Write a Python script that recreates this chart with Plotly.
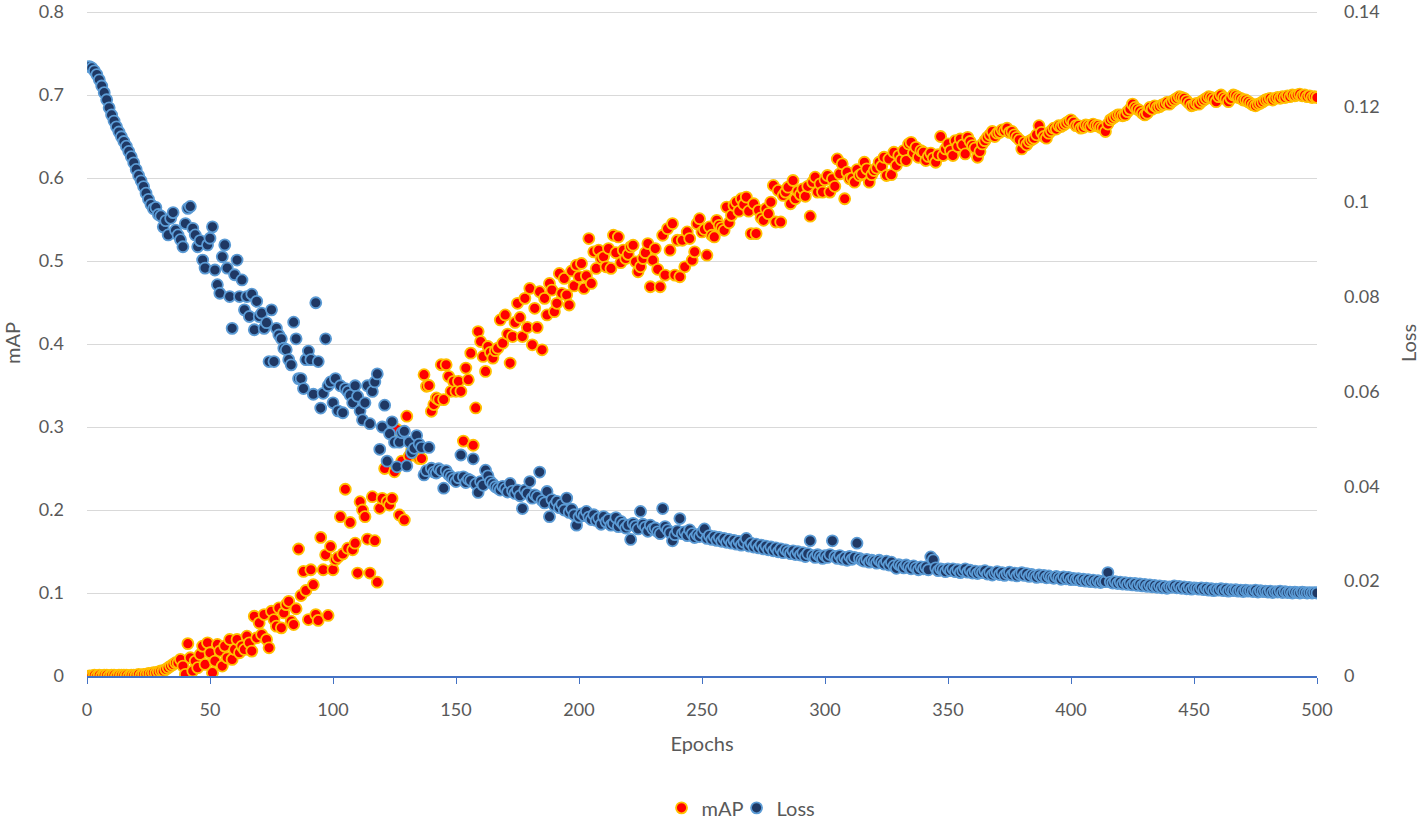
import plotly.graph_objects as go

# ---------------- data ----------------
EPOCHS = list(range(1, 501))

MAP = [
    0.000, 0.000, 0.001, 0.000, 0.001, 0.000, 0.001, 0.001, 0.000, 0.001,
    0.001, 0.000, 0.001, 0.001, 0.001, 0.001, 0.000, 0.001, 0.001, 0.001,
    0.002, 0.001, 0.002, 0.002, 0.003, 0.003, 0.004, 0.004, 0.005, 0.006,
    0.006, 0.008, 0.010, 0.012, 0.014, 0.016, 0.016, 0.020, 0.012, 0.002,
    0.039, 0.022, 0.006, 0.018, 0.010, 0.026, 0.036, 0.014, 0.040, 0.028,
    0.004, 0.018, 0.038, 0.030, 0.012, 0.036, 0.022, 0.044, 0.020, 0.032,
    0.044, 0.028, 0.036, 0.032, 0.048, 0.040, 0.030, 0.072, 0.046, 0.064,
    0.050, 0.074, 0.044, 0.034, 0.078, 0.068, 0.060, 0.082, 0.058, 0.076,
    0.086, 0.090, 0.066, 0.062, 0.081, 0.153, 0.097, 0.126, 0.103, 0.068,
    0.128, 0.110, 0.074, 0.067, 0.167, 0.128, 0.146, 0.073, 0.156, 0.128,
    0.140, 0.143, 0.192, 0.147, 0.225, 0.154, 0.185, 0.152, 0.160, 0.124,
    0.210, 0.200, 0.192, 0.165, 0.124, 0.216, 0.163, 0.113, 0.202, 0.214,
    0.250, 0.210, 0.206, 0.214, 0.246, 0.297, 0.194, 0.259, 0.188, 0.313,
    0.265, 0.272, 0.268, 0.265, 0.262, 0.262, 0.363, 0.349, 0.350, 0.319,
    0.327, 0.335, 0.333, 0.375, 0.333, 0.375, 0.361, 0.343, 0.355, 0.343,
    0.355, 0.343, 0.283, 0.371, 0.357, 0.389, 0.278, 0.323, 0.415, 0.403,
    0.385, 0.367, 0.397, 0.390, 0.383, 0.392, 0.395, 0.429, 0.401, 0.435,
    0.412, 0.377, 0.409, 0.426, 0.449, 0.432, 0.409, 0.455, 0.420, 0.467,
    0.399, 0.443, 0.420, 0.463, 0.393, 0.455, 0.435, 0.473, 0.465, 0.439,
    0.449, 0.485, 0.461, 0.479, 0.459, 0.447, 0.488, 0.470, 0.495, 0.481,
    0.497, 0.467, 0.482, 0.527, 0.473, 0.511, 0.491, 0.513, 0.503, 0.505,
    0.493, 0.515, 0.491, 0.531, 0.510, 0.529, 0.498, 0.513, 0.503, 0.508,
    0.517, 0.519, 0.499, 0.487, 0.493, 0.503, 0.510, 0.521, 0.469, 0.501,
    0.515, 0.490, 0.469, 0.531, 0.483, 0.539, 0.513, 0.545, 0.483, 0.525,
    0.481, 0.525, 0.493, 0.535, 0.527, 0.501, 0.511, 0.545, 0.551, 0.535,
    0.538, 0.507, 0.541, 0.531, 0.529, 0.549, 0.543, 0.540, 0.537, 0.565,
    0.546, 0.555, 0.567, 0.571, 0.560, 0.575, 0.568, 0.577, 0.560, 0.533,
    0.569, 0.533, 0.561, 0.552, 0.549, 0.563, 0.557, 0.571, 0.591, 0.547,
    0.585, 0.547, 0.579, 0.583, 0.589, 0.569, 0.597, 0.575, 0.584, 0.580,
    0.587, 0.578, 0.590, 0.554, 0.595, 0.601, 0.583, 0.593, 0.583, 0.598,
    0.603, 0.583, 0.599, 0.590, 0.623, 0.605, 0.617, 0.575, 0.607, 0.599,
    0.600, 0.595, 0.610, 0.603, 0.605, 0.619, 0.611, 0.595, 0.604, 0.609,
    0.612, 0.619, 0.614, 0.625, 0.603, 0.623, 0.604, 0.631, 0.615, 0.627,
    0.622, 0.633, 0.621, 0.641, 0.643, 0.630, 0.637, 0.625, 0.633, 0.631,
    0.621, 0.626, 0.630, 0.624, 0.619, 0.628, 0.650, 0.627, 0.635, 0.641,
    0.633, 0.627, 0.645, 0.638, 0.647, 0.640, 0.629, 0.649, 0.644, 0.639,
    0.636, 0.625, 0.632, 0.641, 0.645, 0.649, 0.652, 0.656, 0.650, 0.654,
    0.655, 0.658, 0.657, 0.660, 0.655, 0.656, 0.652, 0.649, 0.646, 0.635,
    0.643, 0.640, 0.644, 0.646, 0.648, 0.652, 0.663, 0.655, 0.650, 0.648,
    0.654, 0.657, 0.660, 0.659, 0.663, 0.662, 0.664, 0.666, 0.668, 0.670,
    0.667, 0.663, 0.663, 0.660, 0.661, 0.664, 0.663, 0.662, 0.665, 0.663,
    0.663, 0.661, 0.660, 0.656, 0.665, 0.670, 0.672, 0.674, 0.676, 0.676,
    0.675, 0.676, 0.680, 0.683, 0.689, 0.685, 0.683, 0.681, 0.678, 0.676,
    0.678, 0.685, 0.683, 0.687, 0.685, 0.686, 0.688, 0.689, 0.691, 0.689,
    0.692, 0.694, 0.696, 0.698, 0.697, 0.696, 0.693, 0.690, 0.687, 0.688,
    0.690, 0.689, 0.692, 0.694, 0.696, 0.698, 0.697, 0.695, 0.692, 0.698,
    0.700, 0.697, 0.695, 0.692, 0.696, 0.700, 0.699, 0.697, 0.696, 0.694,
    0.694, 0.692, 0.690, 0.688, 0.687, 0.689, 0.690, 0.692, 0.694, 0.695,
    0.696, 0.694, 0.696, 0.697, 0.696, 0.698, 0.697, 0.699, 0.698, 0.700,
    0.699, 0.700, 0.701, 0.699, 0.700, 0.698, 0.699, 0.697, 0.698, 0.697,
]

LOSS = [
    0.1285, 0.1282, 0.1276, 0.1268, 0.1257, 0.1244, 0.1230, 0.1215, 0.1198, 0.1183,
    0.1170, 0.1158, 0.1147, 0.1137, 0.1127, 0.1117, 0.1106, 0.1095, 0.1082, 0.1068,
    0.1055, 0.1044, 0.1032, 0.1018, 0.1005, 0.0994, 0.0985, 0.0988, 0.0973, 0.0970,
    0.0947, 0.0960, 0.0930, 0.0965, 0.0977, 0.0940, 0.0930, 0.0920, 0.0905, 0.0954,
    0.0986, 0.0990, 0.0944, 0.0930, 0.0905, 0.0918, 0.0877, 0.0860, 0.0909, 0.0923,
    0.0947, 0.0856, 0.0825, 0.0807, 0.0884, 0.0909, 0.0860, 0.0800, 0.0733, 0.0846,
    0.0877, 0.0800, 0.0835, 0.0772, 0.0800, 0.0758, 0.0805, 0.0730, 0.0790, 0.0758,
    0.0765, 0.0733, 0.0745, 0.0663, 0.0772, 0.0663, 0.0733, 0.0719, 0.0711, 0.0691,
    0.0688, 0.0667, 0.0656, 0.0746, 0.0711, 0.0627, 0.0627, 0.0606, 0.0667, 0.0685,
    0.0667, 0.0594, 0.0787, 0.0663, 0.0565, 0.0596, 0.0711, 0.0612, 0.0620, 0.0576,
    0.0627, 0.0559, 0.0612, 0.0555, 0.0606, 0.0600, 0.0592, 0.0576, 0.0612, 0.0590,
    0.0559, 0.0540, 0.0576, 0.0612, 0.0532, 0.0600, 0.0620, 0.0637, 0.0478, 0.0525,
    0.0571, 0.0453, 0.0511, 0.0536, 0.0493, 0.0441, 0.0493, 0.0513, 0.0516, 0.0443,
    0.0493, 0.0471, 0.0480, 0.0507, 0.0489, 0.0482, 0.0424, 0.0433, 0.0482, 0.0438,
    0.0430, 0.0428, 0.0437, 0.0433, 0.0396, 0.0433, 0.0425, 0.0420, 0.0415, 0.0410,
    0.0418, 0.0466, 0.0420, 0.0408, 0.0415, 0.0412, 0.0458, 0.0405, 0.0387, 0.0410,
    0.0402, 0.0434, 0.0422, 0.0410, 0.0405, 0.0399, 0.0396, 0.0392, 0.0400, 0.0395,
    0.0388, 0.0406, 0.0390, 0.0385, 0.0392, 0.0380, 0.0353, 0.0392, 0.0385, 0.0410,
    0.0375, 0.0382, 0.0378, 0.0430, 0.0370, 0.0365, 0.0389, 0.0336, 0.0372, 0.0360,
    0.0368, 0.0355, 0.0362, 0.0350, 0.0375, 0.0345, 0.0352, 0.0340, 0.0318, 0.0335,
    0.0342, 0.0338, 0.0347, 0.0335, 0.0330, 0.0340, 0.0328, 0.0333, 0.0320, 0.0336,
    0.0325, 0.0330, 0.0318, 0.0322, 0.0334, 0.0315, 0.0326, 0.0320, 0.0312, 0.0318,
    0.0288, 0.0322, 0.0316, 0.0310, 0.0347, 0.0320, 0.0314, 0.0305, 0.0318, 0.0310,
    0.0312, 0.0304, 0.0300, 0.0353, 0.0315, 0.0308, 0.0302, 0.0285, 0.0298, 0.0306,
    0.0332, 0.0300, 0.0304, 0.0296, 0.0308, 0.0300, 0.0292, 0.0298, 0.0294, 0.0302,
    0.0310, 0.0290, 0.0296, 0.0288, 0.0294, 0.0286, 0.0292, 0.0284, 0.0290, 0.0282,
    0.0288, 0.0280, 0.0286, 0.0278, 0.0284, 0.0276, 0.0282, 0.0290, 0.0274, 0.0280,
    0.0272, 0.0278, 0.0270, 0.0276, 0.0268, 0.0274, 0.0266, 0.0272, 0.0264, 0.0270,
    0.0262, 0.0268, 0.0260, 0.0266, 0.0262, 0.0258, 0.0264, 0.0256, 0.0262, 0.0255,
    0.0260, 0.0252, 0.0258, 0.0285, 0.0254, 0.0250, 0.0256, 0.0252, 0.0248, 0.0254,
    0.0250, 0.0256, 0.0285, 0.0252, 0.0248, 0.0254, 0.0246, 0.0250, 0.0244, 0.0252,
    0.0246, 0.0250, 0.0280, 0.0248, 0.0244, 0.0242, 0.0246, 0.0240, 0.0244, 0.0242,
    0.0238, 0.0244, 0.0240, 0.0236, 0.0242, 0.0234, 0.0240, 0.0232, 0.0227, 0.0235,
    0.0232, 0.0228, 0.0234, 0.0230, 0.0226, 0.0232, 0.0228, 0.0224, 0.0230, 0.0226,
    0.0230, 0.0224, 0.0251, 0.0245, 0.0228, 0.0222, 0.0226, 0.0224, 0.0220, 0.0226,
    0.0222, 0.0226, 0.0220, 0.0224, 0.0218, 0.0222, 0.0226, 0.0219, 0.0223, 0.0217,
    0.0221, 0.0216, 0.0220, 0.0218, 0.0222, 0.0215, 0.0219, 0.0213, 0.0217, 0.0220,
    0.0214, 0.0218, 0.0212, 0.0216, 0.0219, 0.0213, 0.0217, 0.0211, 0.0215, 0.0218,
    0.0212, 0.0216, 0.0210, 0.0214, 0.0211, 0.0208, 0.0213, 0.0209, 0.0212, 0.0207,
    0.0211, 0.0208, 0.0206, 0.0210, 0.0207, 0.0204, 0.0209, 0.0205, 0.0208, 0.0203,
    0.0206, 0.0203, 0.0205, 0.0201, 0.0204, 0.0200, 0.0203, 0.0199, 0.0202, 0.0198,
    0.0201, 0.0197, 0.0200, 0.0199, 0.0218, 0.0198, 0.0196, 0.0199, 0.0195, 0.0198,
    0.0194, 0.0197, 0.0193, 0.0196, 0.0192, 0.0195, 0.0191, 0.0194, 0.0190, 0.0193,
    0.0189, 0.0192, 0.0188, 0.0191, 0.0187, 0.0190, 0.0186, 0.0189, 0.0185, 0.0188,
    0.0187, 0.0190, 0.0186, 0.0189, 0.0185, 0.0188, 0.0184, 0.0187, 0.0183, 0.0186,
    0.0185, 0.0183, 0.0186, 0.0182, 0.0185, 0.0181, 0.0184, 0.0180, 0.0183, 0.0181,
    0.0184, 0.0180, 0.0183, 0.0179, 0.0182, 0.0180, 0.0182, 0.0179, 0.0181, 0.0178,
    0.0181, 0.0179, 0.0180, 0.0178, 0.0181, 0.0177, 0.0180, 0.0178, 0.0179, 0.0177,
    0.0179, 0.0176, 0.0178, 0.0177, 0.0179, 0.0176, 0.0178, 0.0176, 0.0177, 0.0175,
    0.0177, 0.0176, 0.0175, 0.0177, 0.0176, 0.0175, 0.0176, 0.0175, 0.0176, 0.0175,
]

X_TICKS = [0, 50, 100, 150, 200, 250, 300, 350, 400, 450, 500]
MAP_TICKS = [0, 0.1, 0.2, 0.3, 0.4, 0.5, 0.6, 0.7, 0.8]
LOSS_TICKS = [0, 0.02, 0.04, 0.06, 0.08, 0.1, 0.12, 0.14]

assert len(MAP) == len(EPOCHS) == len(LOSS)

# ---------------- figure ----------------
FONT = "Lato, 'Open Sans', sans-serif"
GREY = "#595959"

# plot area is 2px taller than 0..0.8 so the top gridline is not clipped
MAP_RANGE = [0, 0.80241]
LOSS_RANGE = [0, 0.140422]

fig = go.Figure()
fig.add_trace(go.Scatter(
    x=EPOCHS, y=MAP, name="mAP", mode="markers",
    marker=dict(size=11, color="#FF0000", line=dict(color="#FFC000", width=1.8)),
    yaxis="y", legend="legend",
))
fig.add_trace(go.Scatter(
    x=EPOCHS, y=LOSS, name="Loss", mode="markers",
    marker=dict(size=11, color="#1F3864", line=dict(color="#5B9BD5", width=1.8)),
    yaxis="y2", legend="legend2",
))

LEG_COMMON = dict(orientation="h", xanchor="left", y=-0.198, yanchor="middle",
                  font=dict(size=20, color=GREY), itemwidth=30,
                  bgcolor="rgba(0,0,0,0)")

fig.update_layout(
    width=1424, height=820,
    paper_bgcolor="white", plot_bgcolor="white",
    margin=dict(l=87, r=107, t=10, b=144, autoexpand=False),
    font=dict(family=FONT, color=GREY, size=18),
    showlegend=True,
    legend=dict(x=0.4671, **LEG_COMMON),
    legend2=dict(x=0.5281, **LEG_COMMON),
    xaxis=dict(
        range=[0, 500], tickvals=X_TICKS, ticktext=[str(v) for v in X_TICKS],
        showgrid=False, zeroline=False,
        showline=True, linecolor="#4472C4", linewidth=1.5,
        ticks="outside", ticklen=6, tickcolor="#4472C4", tickwidth=1,
        ticklabelstandoff=11,
        title=dict(text="Epochs", font=dict(size=20, color=GREY), standoff=18),
        automargin=False,
    ),
    yaxis=dict(
        range=MAP_RANGE, tickvals=MAP_TICKS, ticktext=[("%g" % v) for v in MAP_TICKS],
        showgrid=True, gridcolor="#D9D9D9", gridwidth=1,
        zeroline=False, showline=False, ticks="",
        ticklabelstandoff=22, ticklabeloverflow="allow",
        title=dict(text="mAP", font=dict(size=20, color=GREY), standoff=36),
        automargin=False,
    ),
    yaxis2=dict(
        range=LOSS_RANGE, tickvals=LOSS_TICKS, ticktext=[("%g" % v) for v in LOSS_TICKS],
        overlaying="y", side="right",
        showgrid=False, zeroline=False, showline=False, ticks="",
        ticklabelstandoff=26, ticklabeloverflow="allow",
        title=dict(text="Loss", font=dict(size=20, color=GREY), standoff=23),
        automargin=False,
    ),
)

# remove the default 8px page margin so the figure sits at the window origin
fig.write_html("out.html", config={"displayModeBar": False},
               post_script="document.body.style.margin='0px';")
